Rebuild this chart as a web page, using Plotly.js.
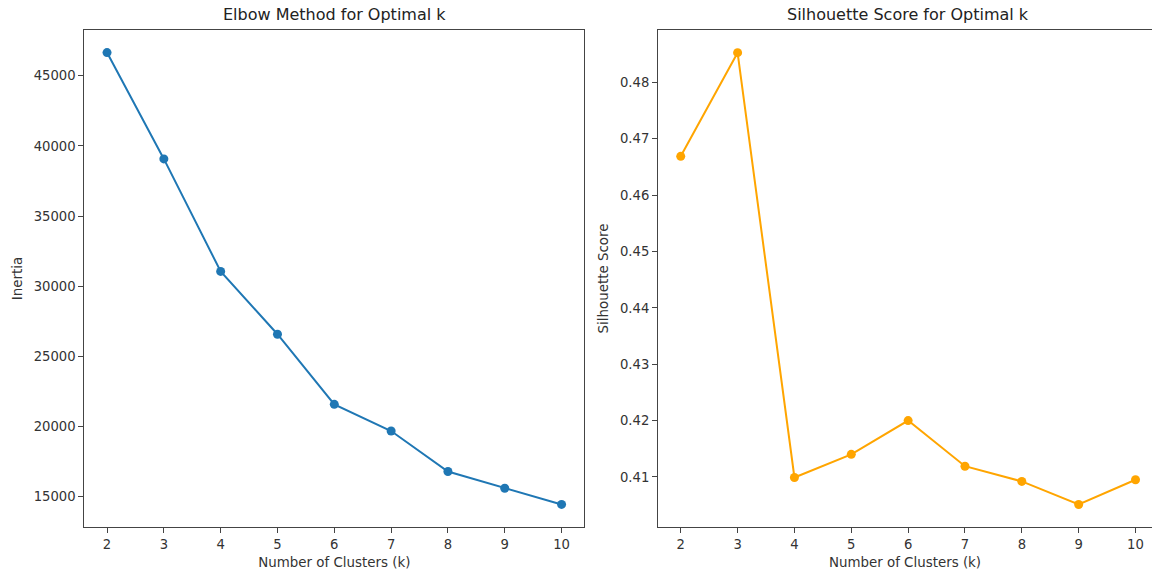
<!DOCTYPE html>
<html>
<head>
<meta charset="utf-8">
<script src="https://cdn.plot.ly/plotly-3.0.1.min.js"></script>
<style>html,body{margin:0;padding:0;background:#fff;overflow:hidden}</style>
</head>
<body>
<div id="chart" style="width:1152px;height:571px"></div>
<script>
const kValues = [2, 3, 4, 5, 6, 7, 8, 9, 10];
const inertia = [46660, 39075, 31050, 26570, 21570, 19665, 16775, 15585, 14430];
const silhouette = [0.4669, 0.4853, 0.4099, 0.4140, 0.4200, 0.4119, 0.4092, 0.4051, 0.4095];
const xTicks = [2, 3, 4, 5, 6, 7, 8, 9, 10];
const inertiaTicks = [15000, 20000, 25000, 30000, 35000, 40000, 45000];
const silTicks = [0.41, 0.42, 0.43, 0.44, 0.45, 0.46, 0.47, 0.48];

const W = 1152;
const FAM = 'DejaVu Sans, sans-serif';
const labelFont = {family: FAM, size: 13.4, color: '#333'};
const axisCommon = {
  showgrid: false, zeroline: false, showline: true, linecolor: '#444', linewidth: 1,
  ticks: 'outside', ticklen: 5, tickwidth: 1, tickcolor: '#444',
  tickfont: {family: FAM, size: 13.2, color: '#333'}
};

const traces = [
  {x: kValues, y: inertia, xaxis: 'x', yaxis: 'y', mode: 'lines+markers', type: 'scatter',
   line: {color: '#1f77b4', width: 2}, marker: {color: '#1f77b4', size: 9}, showlegend: false},
  {x: kValues, y: silhouette, xaxis: 'x2', yaxis: 'y2', mode: 'lines+markers', type: 'scatter',
   line: {color: '#FFA500', width: 2}, marker: {color: '#FFA500', size: 9}, showlegend: false}
];

const layout = {
  width: 1152, height: 571,
  margin: {l: 0, r: 0, t: 30, b: 44},
  paper_bgcolor: '#fff', plot_bgcolor: '#fff',
  font: {family: FAM, size: 13, color: '#333'},
  xaxis: Object.assign({}, axisCommon, {domain: [84.3 / W, 584.3 / W], range: [1.6, 10.4],
    tickvals: xTicks, ticktext: xTicks.map(String), mirror: true, anchor: 'y',
    title: {text: 'Number of Clusters (k)', font: labelFont, standoff: 6}}),
  yaxis: Object.assign({}, axisCommon, {domain: [0, 1], range: [12819, 48271],
    tickvals: inertiaTicks, ticktext: inertiaTicks.map(String), mirror: true, anchor: 'x',
    title: {text: 'Inertia', font: labelFont, standoff: 8}}),
  xaxis2: Object.assign({}, axisCommon, {domain: [658 / W, 1], range: [1.6, 10.29],
    tickvals: xTicks, ticktext: xTicks.map(String), mirror: true, anchor: 'y2',
    title: {text: 'Number of Clusters (k)', font: labelFont, standoff: 6}}),
  yaxis2: Object.assign({}, axisCommon, {domain: [0, 1], range: [0.40111, 0.48932],
    tickvals: silTicks, ticktext: silTicks.map(v => v.toFixed(2)), mirror: false, anchor: 'x2',
    title: {text: 'Silhouette Score', font: labelFont, standoff: 8}}),
  annotations: [
    {text: 'Elbow Method for Optimal k', xref: 'x domain', yref: 'y domain', x: 0.5, y: 1,
     xanchor: 'center', yanchor: 'bottom', yshift: 4, showarrow: false,
     font: {family: FAM, size: 16, color: '#222'}},
    {text: 'Silhouette Score for Optimal k', xref: 'paper', yref: 'y2 domain', x: (658 + 250) / W, y: 1,
     xanchor: 'center', yanchor: 'bottom', yshift: 4, showarrow: false,
     font: {family: FAM, size: 16, color: '#222'}}
  ]
};

Plotly.newPlot('chart', traces, layout, {displayModeBar: false, staticPlot: true});
</script>
</body>
</html>
